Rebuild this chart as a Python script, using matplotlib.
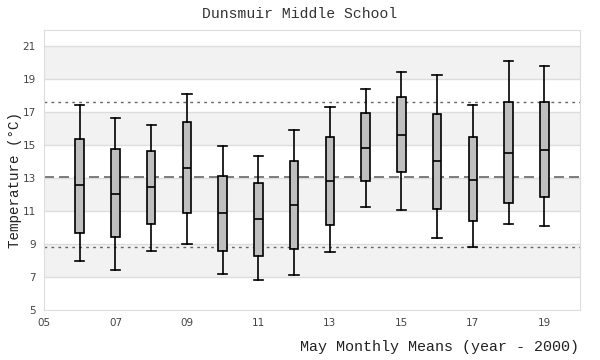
import matplotlib
matplotlib.use('Agg')
import matplotlib.pyplot as plt

# May monthly means, Dunsmuir Middle School
years = [6, 7, 8, 9, 10, 11, 12, 13, 14, 15, 16, 17, 18, 19]
whisLow = [7.95, 7.4, 8.56, 8.98, 7.18, 6.8, 7.1, 8.5, 11.28, 11.06, 9.35, 8.8, 10.2, 10.07]
q1 = [9.65, 9.42, 10.25, 10.86, 8.56, 8.27, 8.68, 10.13, 12.82, 13.36, 11.16, 10.4, 11.48, 11.83]
medians = [12.56, 12.07, 12.44, 13.65, 10.86, 10.52, 11.4, 12.82, 14.86, 15.65, 14.07, 12.92, 14.56, 14.74]
q3 = [15.4, 14.8, 14.68, 16.43, 13.14, 12.68, 14.07, 15.53, 16.98, 17.95, 16.92, 15.53, 17.65, 17.65]
whisHigh = [17.47, 16.68, 16.25, 18.13, 14.98, 14.37, 15.95, 17.34, 18.44, 19.47, 19.28, 17.47, 20.13, 19.83]

meanLine = 13.05
upperLine = 17.6
lowerLine = 8.82

xTicks = [5, 7, 9, 11, 13, 15, 17, 19]
xTickLabels = ['05', '07', '09', '11', '13', '15', '17', '19']
yTicks = [5, 7, 9, 11, 13, 15, 17, 19, 21]

stats = []
for i in range(len(years)):
    stats.append({'whislo': whisLow[i], 'q1': q1[i], 'med': medians[i],
                  'q3': q3[i], 'whishi': whisHigh[i], 'fliers': []})

fig = plt.figure(figsize=(6, 3.6), dpi=100)
ax = fig.add_axes([0.0733, 0.1389, 0.8934, 0.7778])

# alternating background bands
for lo in [7, 11, 15, 19]:
    ax.axhspan(lo, lo + 2, color='#f2f2f2', zorder=0, lw=0)
for y in yTicks[1:]:
    ax.axhline(y, color='#dddddd', lw=1, zorder=1)

ax.axhline(upperLine, color='#666666', lw=1, ls=(0, (2, 3)), zorder=2)
ax.axhline(meanLine, color='#666666', lw=1.2, ls=(0, (6, 3)), zorder=2)
ax.axhline(lowerLine, color='#666666', lw=1, ls=(0, (2, 3)), zorder=2)

ax.bxp(stats, positions=years, widths=0.24, showfliers=False, patch_artist=True,
       boxprops=dict(facecolor='#bfbfbf', edgecolor='black', lw=1.2),
       medianprops=dict(color='black', lw=1.2),
       whiskerprops=dict(color='black', lw=1.2),
       capprops=dict(color='black', lw=1.2),
       capwidths=0.26, zorder=3)

ax.set_xlim(5, 20)
ax.set_ylim(5, 22)
ax.set_xticks(xTicks)
ax.set_xticklabels(xTickLabels)
ax.set_yticks(yTicks)
ax.tick_params(length=0, labelsize=7.5, labelcolor='#444444', pad=6)
for s in ax.spines.values():
    s.set_color('#dddddd')

mono = 'Liberation Mono'
fig.text(0.5, 0.96, 'Dunsmuir Middle School', ha='center', va='center',
         family=mono, fontsize=10.6, color='#333333')
fig.text(0.025, 0.5, 'Temperature (°C)', rotation=90, ha='center', va='center',
         family=mono, fontsize=10.3, color='#222222')
fig.text(0.965, 0.035, 'May Monthly Means (year - 2000)', ha='right', va='center',
         family=mono, fontsize=10.8, color='#222222')

fig.savefig('out.png', dpi=100)
